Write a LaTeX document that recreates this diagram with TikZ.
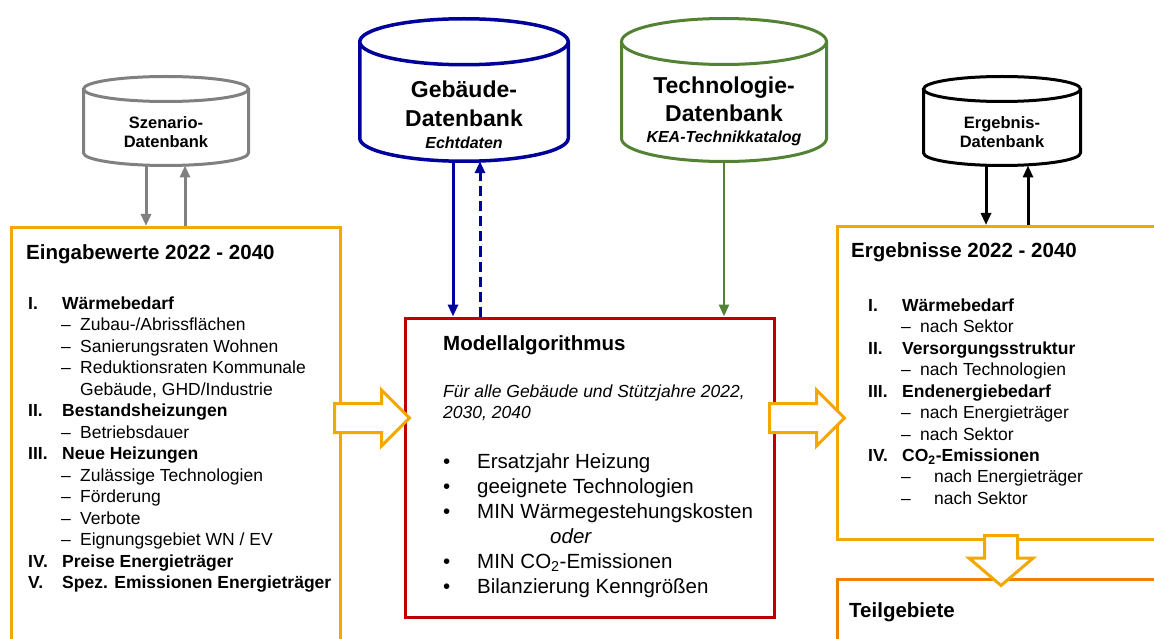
\documentclass[tikz,border=0pt]{standalone}
\usepackage{fontspec}
\setmainfont{Liberation Sans}
\usetikzlibrary{arrows.meta, positioning, shapes.arrows}

\definecolor{boxorange}{RGB}{243,168,0}
\definecolor{suborange}{RGB}{240,128,0}
\definecolor{algred}{RGB}{192,0,0}
\definecolor{dbblue}{RGB}{0,0,155}
\definecolor{dbgreen}{RGB}{84,130,53}
\definecolor{dbgray}{RGB}{128,128,128}

\newcommand{\lstitem}[2]{\makebox[34pt][l]{\textbf{#1}}\textbf{#2}}
\newcommand{\lstsub}[2][19pt]{\hspace*{33pt}\makebox[#1][l]{\textendash}#2}
% database drum: name of bottom point, centre x, top ellipse y, x radius, y radius, body height
\newcommand{\dbcyl}[6]{%
  \draw[fill=white] (#2-#4,#3) -- (#2-#4,#3+#6) arc[start angle=180, end angle=0, x radius=#4, y radius=#5] -- (#2+#4,#3);
  \draw[fill=white] (#2,#3) ellipse[x radius=#4, y radius=#5];
  \coordinate (#1) at (#2,#3+#6+#5);
}

\begin{document}
\begin{tikzpicture}[
  x=1pt, y=-1pt,
  panel/.style={rectangle, draw, line width=3pt, anchor=north west, inner sep=0pt},
  blockarrow/.style={single arrow, draw=boxorange, fill=white, line width=3pt, inner xsep=0pt, inner ysep=13pt, single arrow head extend=13.5pt, single arrow tip angle=90, anchor=tail},
  lbl/.style={inner sep=0pt, anchor=base west},
  dblbl/.style={inner sep=0pt, anchor=base},
  title/.style={lbl, font=\fontsize{20.5}{25}\selectfont\bfseries},
  link/.style={-{Triangle[length=12pt,width=10pt]}, line width=3pt}
]
\useasboundingbox (0,0) rectangle (1154,639);

% boxes
\node[panel, draw=boxorange, minimum width=329pt, minimum height=460pt] (inp) at (10,226) {};
\node[panel, draw=algred, minimum width=369pt, minimum height=299pt] (modl) at (403.5,316.5) {};
\node[panel, draw=boxorange, minimum width=340pt, minimum height=313pt] (res) at (835.5,225) {};
\node[panel, draw=suborange, minimum width=340pt, minimum height=100pt] (parts) at (835.5,578) {};

% databases
\begin{scope}[dbgray, line width=3pt]
  \dbcyl{szen}{166}{89}{82.5}{12.5}{64}
\end{scope}
\begin{scope}[dbblue, line width=3.5pt]
  \dbcyl{geb}{464}{41.75}{104.25}{23}{96.5}
\end{scope}
\begin{scope}[dbgreen, line width=3pt]
  \dbcyl{tech}{724}{41.5}{102.5}{23}{97}
\end{scope}
\begin{scope}[black, line width=3pt]
  \dbcyl{erg}{1002}{89}{78.5}{12.5}{64}
\end{scope}

\node[dblbl, font=\fontsize{16.5}{19}\selectfont\bfseries] (szentxt) at (166,129) {\parbox[t]{160pt}{\centering Szenario-\\Datenbank}};
\node[dblbl, font=\fontsize{23}{29}\selectfont\bfseries] (gebtxt) at (464,98) {\parbox[t]{200pt}{\centering Gebäude-\\Datenbank\\[-7pt]{\fontsize{16}{16}\selectfont\itshape Echtdaten}}};
\node[dblbl, font=\fontsize{23}{28}\selectfont\bfseries] (techtxt) at (724,94) {\parbox[t]{200pt}{\centering Technologie-\\Datenbank\\[-7pt]{\fontsize{16}{16}\selectfont\itshape KEA-Technikkatalog}}};
\node[dblbl, font=\fontsize{16.5}{19}\selectfont\bfseries] (ergtxt) at (1002,129) {\parbox[t]{150pt}{\centering Ergebnis-\\Datenbank}};

% texts
\node[title] (inptitle) at (26,259) {Eingabewerte 2022 - 2040};
\node[lbl, font=\fontsize{17.5}{21.5}\selectfont] (inplist) at (28,309) {\parbox[t]{312pt}{%
\lstitem{I.}{Wärmebedarf}\\
\lstsub{Zubau-/Abrissflächen}\\
\lstsub{Sanierungsraten Wohnen}\\
\lstsub{Reduktionsraten Kommunale}\\
\hspace*{52pt}Gebäude, GHD/Industrie\\
\lstitem{II.}{Bestandsheizungen}\\
\lstsub{Betriebsdauer}\\
\lstitem{III.}{Neue Heizungen}\\
\lstsub{Zulässige Technologien}\\
\lstsub{Förderung}\\
\lstsub{Verbote}\\
\lstsub{Eignungsgebiet WN / EV}\\
\lstitem{IV.}{Preise Energieträger}\\
\lstitem{V.}{Spez. Emissionen Energieträger}}};

\node[title] (modltitle) at (443,350) {Modellalgorithmus};
\node[lbl, font=\fontsize{17.5}{21}\selectfont\itshape] (modlscope) at (443,397) {\parbox[t]{320pt}{Für alle Gebäude und Stützjahre 2022,\\2030, 2040}};
\node[lbl, font=\fontsize{20.5}{25}\selectfont] (modllist) at (443,468) {\parbox[t]{330pt}{%
\makebox[34pt][l]{\textbullet}Ersatzjahr Heizung\\
\makebox[34pt][l]{\textbullet}geeignete Technologien\\
\makebox[34pt][l]{\textbullet}MIN Wärmegestehungskosten\\
\hspace*{107pt}\textit{oder}\\
\makebox[34pt][l]{\textbullet}MIN CO\textsubscript{2}-Emissionen\\
\makebox[34pt][l]{\textbullet}Bilanzierung Kenngrößen}};

\node[title] (restitle) at (851,258) {Ergebnisse 2022 - 2040};
\node[lbl, font=\fontsize{17.5}{21.5}\selectfont] (reslist) at (868,311) {\parbox[t]{280pt}{%
\lstitem{I.}{Wärmebedarf}\\
\lstsub{nach Sektor}\\
\lstitem{II.}{Versorgungsstruktur}\\
\lstsub{nach Technologien}\\
\lstitem{III.}{Endenergiebedarf}\\
\lstsub{nach Energieträger}\\
\lstsub{nach Sektor}\\
\lstitem{IV.}{CO\textsubscript{2}-Emissionen}\\
\lstsub[33pt]{nach Energieträger}\\
\lstsub[33pt]{nach Sektor}}};

\node[title] (partstitle) at (849,617) {Teilgebiete};

% block arrows
\node[blockarrow, minimum height=75pt] (toalg) at (333,418) {};
\node[blockarrow, minimum height=75pt] (tores) at (768,418) {};
\node[blockarrow, minimum height=50pt, inner ysep=15pt, single arrow head extend=15.5pt, single arrow tip angle=99, rotate=-90] (toparts) at (1001,534) {};

% connectors
\draw[link, dbgray] ([xshift=-20pt]szen) -- ([xshift=-20pt]szen |- inp.north);
\draw[link, dbgray] ([xshift=19pt]szen |- inp.north) -- ([xshift=19pt]szen);
\draw[link, dbblue] ([xshift=-11pt]geb) -- ([xshift=-11pt]geb |- modl.north);
\draw[link, dbblue, dash pattern=on 10pt off 5pt] ([xshift=16pt]geb |- modl.north) -- ([xshift=16pt]geb);
\draw[link, dbgreen, line width=2.5pt] (tech) -- (tech |- modl.north);
\draw[link, black] ([xshift=-16pt]erg) -- ([xshift=-16pt]erg |- res.north);
\draw[link, black] ([xshift=26pt]erg |- res.north) -- ([xshift=26pt]erg);

\end{tikzpicture}
\end{document}
